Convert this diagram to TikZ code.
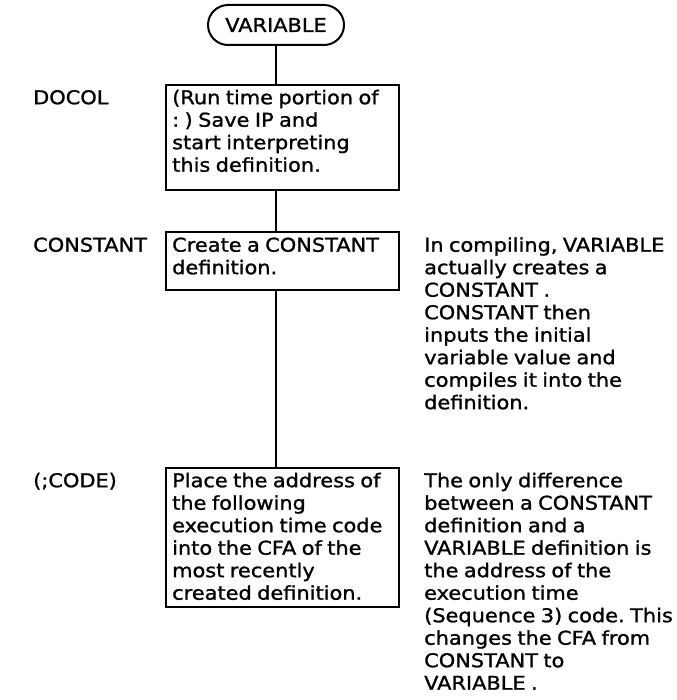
\documentclass[tikz,border=0pt]{standalone}
\usepackage{fontspec}
\setmainfont[FakeStretch=1.1,FakeBold=1.2]{DejaVu Sans}
\usetikzlibrary{shapes.misc}
\newcommand\mytopstrut{\rule{0pt}{15pt}}
\newcommand\mydiagfont{\fontsize{19}{22.5}\selectfont\spaceskip=5.4pt plus 1pt minus 1pt\relax}
\begin{document}
\frenchspacing
\begin{tikzpicture}[x=1pt,y=-1pt,
  every node/.style={font=\mydiagfont},
  termnode/.style={draw, rounded rectangle, line width=2pt, minimum width=136pt, minimum height=40pt, inner sep=0pt},
  boxnode/.style={draw, line width=1.7pt, rectangle, inner sep=0pt, minimum width=233pt, anchor=north west},
  txt/.style={align=left, inner sep=0pt, anchor=north west},
  conn/.style={line width=2.2pt},
  thinconn/.style={line width=2pt}]
\useasboundingbox (0,0) rectangle (676,700);
% terminal
\node[termnode] (term) at (276,25) {VARIABLE};
% boxes
\node[boxnode, minimum height=105pt] (b1) at (165,84) {};
\node[boxnode, minimum height=58pt] (b2) at (165,231) {};
\node[boxnode, minimum height=139pt] (b3) at (165,467) {};
% box texts
\node[txt] (b1t) at (172,89) {\mytopstrut(Run time portion of\\: ) Save IP and\\start interpreting\\this definition.};
\node[txt] (b2t) at (172,236.5) {\mytopstrut Create a CONSTANT\\definition.};
\node[txt] (b3t) at (172,472) {\mytopstrut Place the address of\\the following\\execution time code\\into the CFA of the\\most recently\\created definition.};
% left labels
\node[txt] (l1) at (33,89) {\mytopstrut DOCOL};
\node[txt] (l2) at (33,236.5) {\mytopstrut CONSTANT};
\node[txt] (l3) at (33,472) {\mytopstrut(;CODE)};
% right comments
\node[txt] (r1) at (424,236.5) {\mytopstrut In compiling, VARIABLE\\actually creates a\\CONSTANT .\\CONSTANT then\\inputs the initial\\variable value and\\compiles it into the\\definition.};
\node[txt] (r2) at (424,472) {\mytopstrut The only difference\\between a CONSTANT\\definition and a\\VARIABLE definition is\\the address of the\\execution time\\(Sequence 3) code. This\\changes the CFA from\\CONSTANT to\\VARIABLE .};
% connectors
\draw[conn] (term.south) -- (term.south |- b1.north);
\draw[conn] (b1.south -| term.south) -- (b2.north -| term.south);
\draw[thinconn] (b2.south -| term.south) -- (b3.north -| term.south);
\end{tikzpicture}
\end{document}
